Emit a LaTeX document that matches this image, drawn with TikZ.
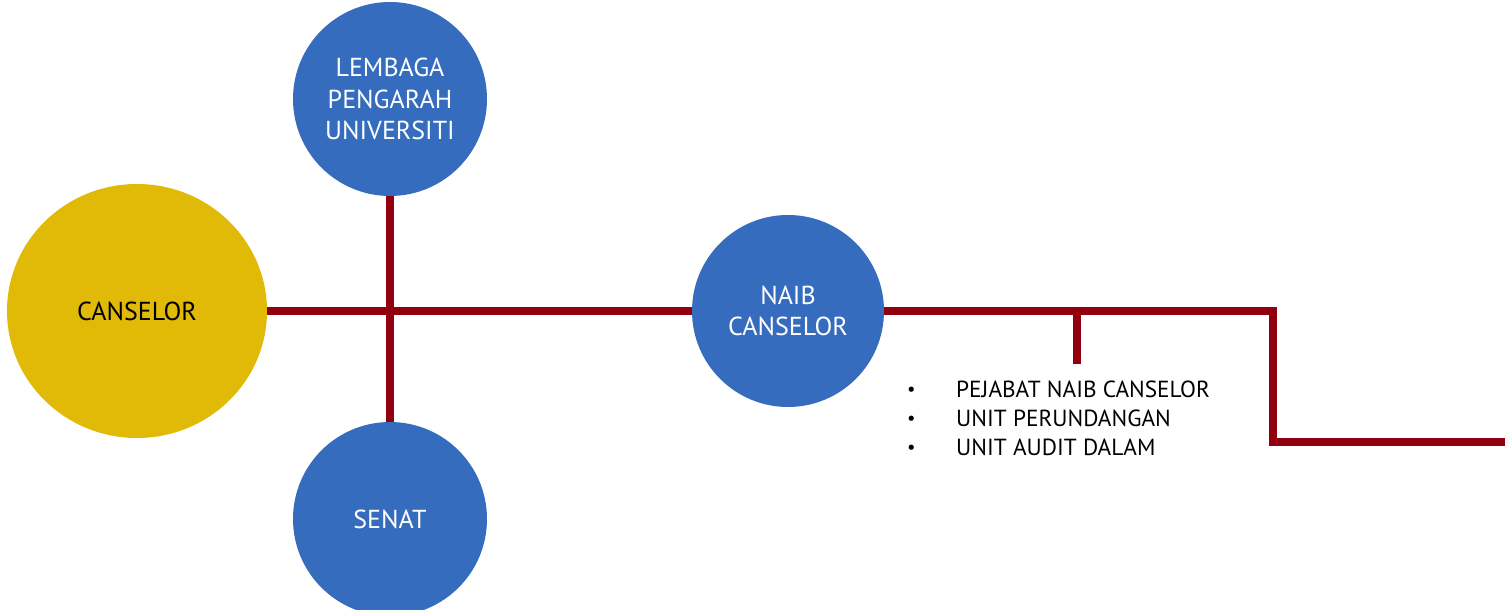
\documentclass[tikz,border=0pt]{standalone}
\usepackage{fontspec}
\setmainfont{PT Sans}
\usetikzlibrary{shapes.geometric}
\definecolor{linered}{HTML}{920010}
\definecolor{orgblue}{HTML}{356CBE}
\definecolor{orggold}{HTML}{E0BA06}
\newcommand{\smallbullet}{\raisebox{1.5pt}{\scalebox{0.8}{\textbullet}}}
\tikzset{
  bluecircle/.style={circle, fill=orgblue, draw=none, minimum size=194pt, inner sep=0pt,
    text=white, align=center, font=\fontsize{26}{31.5}\selectfont},
  goldcircle/.style={ellipse, fill=orggold, draw=none, minimum width=260pt, minimum height=254pt,
    inner sep=0pt, text=black, align=center, font=\fontsize{26}{31.5}\selectfont},
  connector/.style={draw=linered, line width=8pt, line join=miter},
}
\begin{document}
\begin{tikzpicture}[x=1pt,y=-1pt]
\useasboundingbox (0,0) rectangle (1505,610);
\node[goldcircle] (cans) at (137,311) {CANSELOR};
\node[bluecircle] (lem) at (390,99) {LEMBAGA\\PENGARAH\\UNIVERSITI};
\node[bluecircle] (sen) at (390,519) {SENAT};
\node[bluecircle, minimum size=192pt] (naib) at (788,311) {NAIB\\CANSELOR};
\coordinate (turn) at (1273,311);
\coordinate (endpt) at (1505,442);
\coordinate (br) at (1077,364);
\draw[connector] (cans.east) -- (naib.west);
\draw[connector] (lem.south) -- (sen.north);
\draw[connector] (naib.east) -- (turn) -- (turn |- endpt) -- (endpt);
\draw[connector] (br |- naib) -- (br);
\node[anchor=base west, inner sep=0pt, font=\fontsize{23.3}{29}\selectfont] (list) at (907,397)
  {\begin{tabular}[t]{@{}l@{}l@{}}
   \makebox[49pt][l]{\smallbullet} & PEJABAT NAIB CANSELOR\\
   \makebox[49pt][l]{\smallbullet} & UNIT PERUNDANGAN\\
   \makebox[49pt][l]{\smallbullet} & UNIT AUDIT DALAM
   \end{tabular}};
\end{tikzpicture}
\end{document}
